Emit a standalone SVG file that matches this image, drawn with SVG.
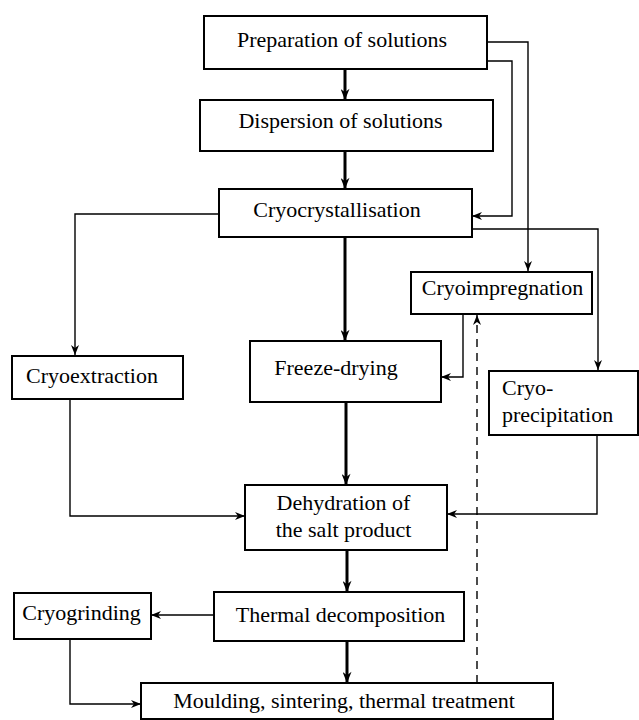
<svg xmlns="http://www.w3.org/2000/svg" width="639" height="720" viewBox="0 0 639 720">
<style>
.box{fill:#fff;stroke:#000;stroke-width:2}
.t{font-family:"Liberation Serif","Times New Roman",serif;font-size:22px;fill:#000}
.c{text-anchor:middle}
.thick{fill:none;stroke:#000;stroke-width:3}
.thin{fill:none;stroke:#000;stroke-width:1.4}
.dash{fill:none;stroke:#000;stroke-width:1.4;stroke-dasharray:8,6}
</style>
<defs>
<marker id="ah" viewBox="0 0 10 8" refX="10" refY="4" markerWidth="11" markerHeight="8" orient="auto" markerUnits="userSpaceOnUse">
<path d="M0,0 L10,4 L0,8 L3,4 Z" fill="#000"/>
</marker>
<marker id="ahb" viewBox="0 0 10 8" refX="10" refY="4" markerWidth="14" markerHeight="9" orient="auto" markerUnits="userSpaceOnUse">
<path d="M0,0 L10,4 L0,8 L3,4 Z" fill="#000"/>
</marker>
</defs>
<g id="connectors">
<line class="thick" x1="345" y1="69" x2="345" y2="100" marker-end="url(#ahb)"/>
<line class="thick" x1="345" y1="151" x2="345" y2="189" marker-end="url(#ahb)"/>
<line class="thick" x1="345" y1="237" x2="345" y2="341" marker-end="url(#ahb)"/>
<line class="thick" x1="346" y1="402" x2="346" y2="485" marker-end="url(#ahb)"/>
<line class="thick" x1="347" y1="550" x2="347" y2="592" marker-end="url(#ahb)"/>
<line class="thick" x1="347" y1="641" x2="347" y2="683" marker-end="url(#ahb)"/>
<polyline class="thin" points="487,42 528,42 528,271" marker-end="url(#ah)"/>
<polyline class="thin" points="487,61 512,61 512,216 472,216" marker-end="url(#ah)"/>
<polyline class="thin" points="472,229 598,229 598,370" marker-end="url(#ah)"/>
<polyline class="thin" points="219,214 75,214 75,355" marker-end="url(#ah)"/>
<polyline class="thin" points="463,314 463,377 441,377" marker-end="url(#ah)"/>
<polyline class="thin" points="70,399 70,516 245,516" marker-end="url(#ah)"/>
<polyline class="thin" points="597,435 597,514 447,514" marker-end="url(#ah)"/>
<line class="thin" x1="214" y1="615" x2="151" y2="615" marker-end="url(#ah)"/>
<polyline class="thin" points="70,639 70,704 141,704" marker-end="url(#ah)"/>
<line class="dash" x1="477" y1="683" x2="477" y2="315" marker-end="url(#ah)"/>
</g>
<g id="preparation"><rect class="box" x="204" y="16" width="283" height="53"/><text class="t c" x="342" y="47">Preparation of solutions</text></g>
<g id="dispersion"><rect class="box" x="200" y="100" width="293" height="51"/><text class="t c" x="340.5" y="128">Dispersion of solutions</text></g>
<g id="cryocrystallisation"><rect class="box" x="219" y="189" width="253" height="48"/><text class="t c" x="337" y="217">Cryocrystallisation</text></g>
<g id="cryoimpregnation"><rect class="box" x="411" y="272" width="181" height="42"/><text class="t c" x="502.5" y="295">Cryoimpregnation</text></g>
<g id="cryoextraction"><rect class="box" x="12" y="356" width="171" height="43"/><text class="t c" x="92" y="383">Cryoextraction</text></g>
<g id="freeze-drying"><rect class="box" x="250" y="341" width="191" height="61"/><text class="t c" x="336" y="375">Freeze-drying</text></g>
<g id="cryoprecipitation"><rect class="box" x="489" y="371" width="149" height="64"/><text class="t" x="502" y="395">Cryo-</text><text class="t" x="502" y="422">precipitation</text></g>
<g id="dehydration"><rect class="box" x="245" y="485" width="202" height="65"/><text class="t c" x="343.5" y="510">Dehydration of</text><text class="t c" x="343.5" y="537">the salt product</text></g>
<g id="thermal-decomposition"><rect class="box" x="214" y="592" width="250" height="49"/><text class="t c" x="340.5" y="622">Thermal decomposition</text></g>
<g id="cryogrinding"><rect class="box" x="14" y="593" width="137" height="46"/><text class="t c" x="81.5" y="620">Cryogrinding</text></g>
<g id="moulding"><rect class="box" x="141" y="683" width="412" height="36"/><text class="t c" x="344" y="708">Moulding, sintering, thermal treatment</text></g>
</svg>
